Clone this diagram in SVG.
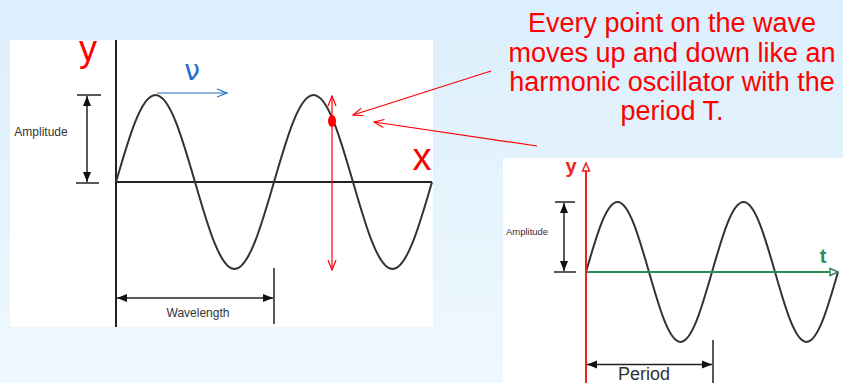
<svg xmlns="http://www.w3.org/2000/svg" width="843" height="383" viewBox="0 0 843 383">
<defs>
<linearGradient id="bg" x1="0" y1="0" x2="0" y2="1">
<stop offset="0" stop-color="#dbeffc"/>
<stop offset="1" stop-color="#eff8fe"/>
</linearGradient>
<marker id="blk" viewBox="0 0 10 10" refX="10" refY="5" markerWidth="10" markerHeight="10" markerUnits="userSpaceOnUse" orient="auto-start-reverse">
<path d="M0,1 L10,5 L0,9 Z" fill="#111"/>
</marker>
<marker id="redo" viewBox="0 0 12 12" refX="11" refY="6" markerWidth="12" markerHeight="12" markerUnits="userSpaceOnUse" orient="auto-start-reverse">
<path d="M1,2 L11,6 L1,10" fill="none" stroke="#f00" stroke-width="1.2"/>
</marker>
<marker id="blueo" viewBox="0 0 12 12" refX="11" refY="6" markerWidth="12" markerHeight="12" markerUnits="userSpaceOnUse" orient="auto">
<path d="M1,2 L11,6 L1,10" fill="none" stroke="#1f6fc8" stroke-width="1.2"/>
</marker>
<marker id="redtri" viewBox="0 0 10 10" refX="9" refY="5" markerWidth="10" markerHeight="10" markerUnits="userSpaceOnUse" orient="auto">
<path d="M1,1.5 L9,5 L1,8.5 Z" fill="#fff" stroke="#e22" stroke-width="1.5"/>
</marker>
<marker id="grntri" viewBox="0 0 10 10" refX="9" refY="5" markerWidth="10" markerHeight="10" markerUnits="userSpaceOnUse" orient="auto">
<path d="M1,1.5 L9,5 L1,8.5 Z" fill="#fff" stroke="#2e8b57" stroke-width="1.5"/>
</marker>
</defs>
<style>
.ax{stroke:#222;stroke-width:2;fill:none}
.wave{stroke:#333;stroke-width:2;fill:none}
.dim{stroke:#222;stroke-width:1.5;fill:none}
.lbl{font-family:"Liberation Sans",Arial,sans-serif;fill:#333}
.note{font-family:"Liberation Sans",Arial,sans-serif;font-size:27px;fill:#f00;text-anchor:middle}
.redl{stroke:#f00;stroke-width:1.2;fill:none}
</style>
<rect width="843" height="383" fill="url(#bg)"/>

<g id="left-panel">
<rect x="10" y="40" width="423" height="287" fill="#fff"/>
<line class="ax" x1="116" y1="40" x2="116" y2="327"/>
<line class="ax" x1="116" y1="182" x2="432" y2="182"/>
<path class="wave" d="M116,182 C128.88,137.43 141.2,95 155.5,95 C169.8,95 182.12,137.43 195,182 C207.88,226.57 220.2,269 234.5,269 C248.8,269 261.12,226.57 274,182 C286.88,137.43 299.2,95 313.5,95 C327.8,95 340.12,137.43 353,182 C365.88,226.57 378.2,269 392.5,269 C406.8,269 419.12,226.57 432,182"/>
</g>

<g id="left-amplitude">
<line class="dim" x1="77" y1="95" x2="101" y2="95"/>
<line class="dim" x1="76" y1="183" x2="99" y2="183"/>
<line class="dim" x1="87" y1="96" x2="87" y2="182" marker-start="url(#blk)" marker-end="url(#blk)"/>
<text class="lbl" x="41" y="136" font-size="12" text-anchor="middle">Amplitude</text>
</g>

<g id="wavelength">
<line class="dim" x1="274" y1="268" x2="274" y2="324"/>
<line class="dim" x1="117" y1="298" x2="273" y2="298" marker-start="url(#blk)" marker-end="url(#blk)"/>
<text class="lbl" x="198" y="317" font-size="12" text-anchor="middle">Wavelength</text>
</g>

<g id="left-labels">
<text x="88" y="61" font-family="Liberation Sans,Arial,sans-serif" font-size="36" fill="#f00" text-anchor="middle">y</text>
<text x="422" y="170" font-family="Liberation Sans,Arial,sans-serif" font-size="38" fill="#f00" text-anchor="middle">x</text>
<text x="192" y="80" font-family="DejaVu Sans,sans-serif" font-size="28" fill="#1f6fc8" text-anchor="middle">ν</text>
<line x1="157" y1="93" x2="227" y2="93" stroke="#1f6fc8" stroke-width="1.2" marker-end="url(#blueo)"/>
</g>

<g id="point-oscillation">
<line class="redl" x1="332" y1="96" x2="332" y2="270" marker-start="url(#redo)" marker-end="url(#redo)"/>
<ellipse cx="332" cy="121" rx="4" ry="6" fill="#f00"/>
</g>

<g id="note">
<text class="note" x="672" y="32">Every point on the wave</text>
<text class="note" x="672" y="62">moves up and down like an</text>
<text class="note" x="672" y="91">harmonic oscillator with the</text>
<text class="note" x="672" y="120">period T.</text>
</g>

<g id="connectors">
<line class="redl" x1="491" y1="71" x2="353" y2="115" marker-end="url(#redo)"/>
<line class="redl" x1="537" y1="146" x2="374" y2="122" marker-end="url(#redo)"/>
</g>

<g id="right-panel">
<rect x="503" y="158" width="340" height="225" fill="#fff"/>
<path class="wave" d="M586,272 C596.27,236.14 606.1,202 617.5,202 C628.9,202 638.73,236.14 649,272 C659.27,307.86 669.1,342 680.5,342 C691.9,342 701.73,307.86 712,272 C722.27,236.14 732.1,202 743.5,202 C754.9,202 764.73,236.14 775,272 C785.27,307.86 795.1,342 806.5,342 C817.9,342 827.73,307.86 838,272"/>
<line x1="586" y1="272" x2="838" y2="272" stroke="#2e8b57" stroke-width="2" marker-end="url(#grntri)"/>
<line x1="586" y1="383" x2="586" y2="163" stroke="#e22" stroke-width="2" marker-end="url(#redtri)"/>
<text x="571" y="173" font-family="Liberation Sans,Arial,sans-serif" font-size="20" font-weight="bold" fill="#e22" text-anchor="middle">y</text>
<text x="823" y="263" font-family="Liberation Sans,Arial,sans-serif" font-size="20" font-weight="bold" fill="#2e8b57" text-anchor="middle">t</text>
</g>

<g id="right-amplitude">
<line class="dim" x1="555" y1="202" x2="575" y2="202"/>
<line class="dim" x1="554" y1="272" x2="576" y2="272"/>
<line class="dim" x1="564" y1="203" x2="564" y2="271" marker-start="url(#blk)" marker-end="url(#blk)"/>
<text class="lbl" x="527" y="235" font-size="9.5" text-anchor="middle">Amplitude</text>
</g>

<g id="period">
<line class="dim" x1="713" y1="340" x2="713" y2="383"/>
<line class="dim" x1="587" y1="364.5" x2="712" y2="364.5" marker-start="url(#blk)" marker-end="url(#blk)"/>
<text class="lbl" x="644" y="380" font-size="18" text-anchor="middle">Period</text>
</g>
</svg>
